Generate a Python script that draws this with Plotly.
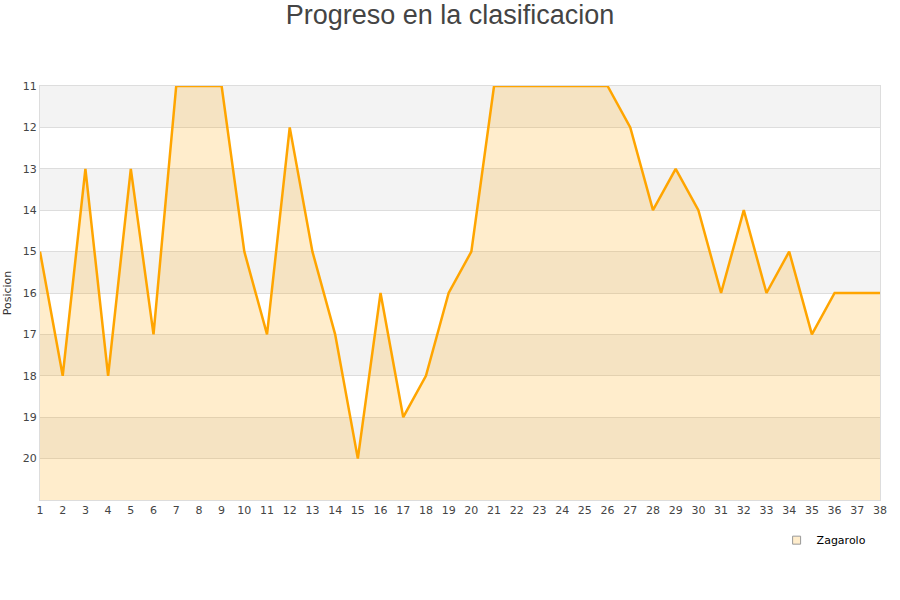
import plotly.graph_objects as go

jornadas = list(range(1, 39))
posiciones = [15, 18, 13, 18, 13, 17, 11, 11, 11, 15, 17, 12, 15, 17, 20, 16, 19, 18, 16, 15,
              11, 11, 11, 11, 11, 11, 12, 14, 13, 14, 16, 14, 16, 15, 17, 16, 16, 16]
equipo = "Zagarolo"
y_ticks = list(range(11, 21))

fig = go.Figure()
fig.add_trace(go.Scatter(x=jornadas, y=[21] * len(jornadas), mode="lines",
                         line=dict(width=0, color="rgba(0,0,0,0)"),
                         showlegend=False, hoverinfo="skip"))
fig.add_trace(go.Scatter(x=jornadas, y=posiciones, mode="lines", name=equipo,
                         line=dict(color="#FFA500", width=2.5), showlegend=False,
                         fill="tonexty", fillcolor="rgba(255,165,0,0.2)"))
fig.add_trace(go.Scatter(x=[None], y=[None], mode="markers", name=equipo,
                         marker=dict(symbol="square", size=8, color="#FFEDCC",
                                     line=dict(color="#999999", width=1))))

shapes = []
for k in range(11, 21, 2):
    shapes.append(dict(type="rect", xref="paper", yref="y", x0=0, x1=1, y0=k, y1=k + 1,
                       fillcolor="#F3F3F3", line=dict(width=0), layer="below"))

fig.update_layout(
    width=900, height=600,
    paper_bgcolor="white", plot_bgcolor="white",
    margin=dict(l=40, r=20, t=86, b=100, autoexpand=False),
    title=dict(text="Progreso en la clasificacion", x=0.5, xanchor="center", y=0.975,
               yanchor="middle", font=dict(family="Liberation Sans, Arial", size=27, color="#444444")),
    shapes=shapes,
    showlegend=True,
    legend=dict(x=0.99, xanchor="right", y=-0.062, yanchor="top",
                font=dict(family="DejaVu Sans", size=11, color="#000000"),
                bgcolor="rgba(0,0,0,0)", itemwidth=30),
    font=dict(family="DejaVu Sans", size=11, color="#444444"),
)
fig.update_xaxes(range=[1, 38], tickmode="array", tickvals=jornadas, showgrid=False,
                 zeroline=False, showline=True, linecolor="#DDDDDD", mirror=True,
                 ticks="", tickfont=dict(size=11, color="#444444"), automargin=False)
fig.update_yaxes(range=[21, 11], tickmode="array", tickvals=y_ticks, showgrid=True,
                 gridcolor="#DDDDDD", zeroline=False, showline=True, linecolor="#DDDDDD",
                 mirror=True, ticks="", tickfont=dict(size=11, color="#444444"), automargin=False,
                 title=dict(text="Posicion", font=dict(size=11, color="#333333"), standoff=8))

fig.write_html("out.html", config={"displayModeBar": False},
               post_script="document.body.style.margin='0';")
